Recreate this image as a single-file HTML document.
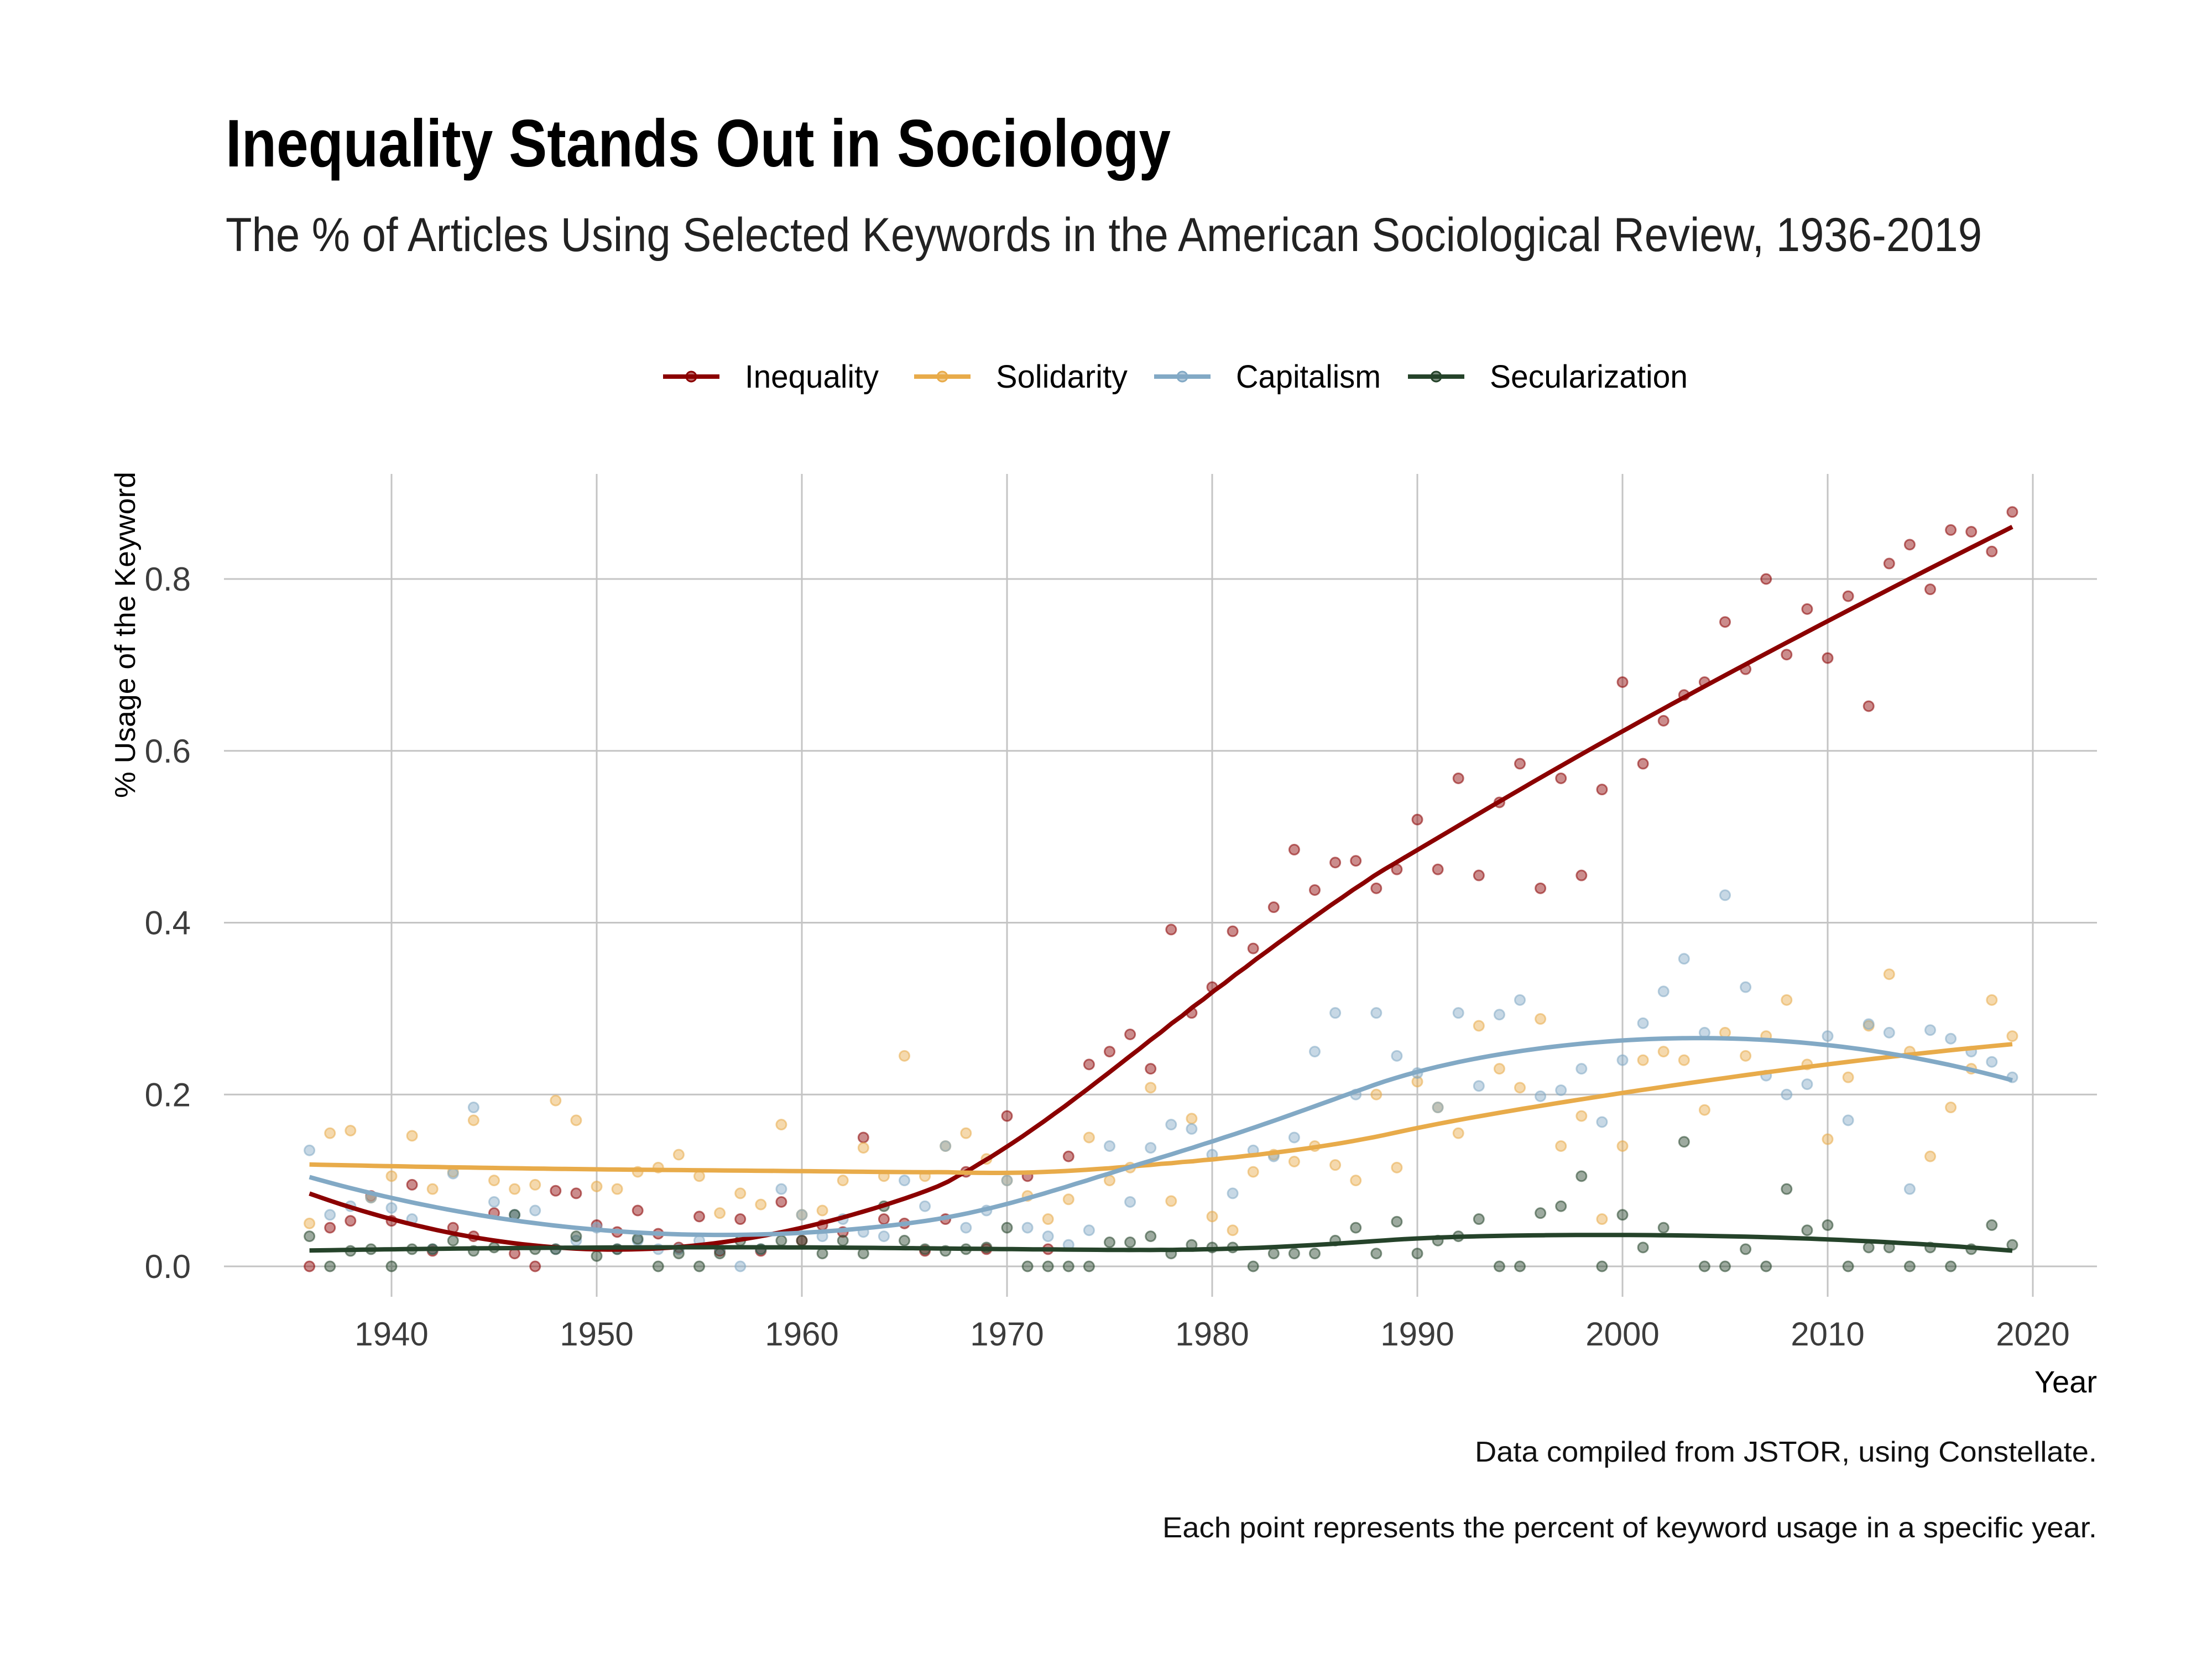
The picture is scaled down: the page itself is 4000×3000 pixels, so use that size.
<!DOCTYPE html>
<html><head><meta charset="utf-8"><style>
html,body{margin:0;padding:0;background:#fff;}
svg{display:block;font-family:"Liberation Sans Narrow","Liberation Sans",sans-serif;}
</style></head><body>
<svg id="chart" width="4000" height="3000" viewBox="0 0 4000 3000" xmlns="http://www.w3.org/2000/svg">
<rect width="4000" height="3000" fill="#fff"/>
<text x="408" y="301" font-size="122" font-weight="bold" fill="#000" textLength="1709" lengthAdjust="spacingAndGlyphs">Inequality Stands Out in Sociology</text>
<text x="408" y="454" font-size="86" fill="#222" textLength="3176" lengthAdjust="spacingAndGlyphs">The % of Articles Using Selected Keywords in the American Sociological Review, 1936-2019</text>
<g id="legend"></g>
<g id="grid"></g>
<g id="points"></g>
<g id="lines"></g>
<g id="axes"></g>
<text transform="translate(244,1148) rotate(-90)" text-anchor="middle" font-size="52" fill="#000" textLength="590" lengthAdjust="spacingAndGlyphs">% Usage of the Keyword</text>
<text x="3792" y="2518" text-anchor="end" font-size="56" fill="#000">Year</text>
<text x="3792" y="2643" text-anchor="end" font-size="52" fill="#111" textLength="1125" lengthAdjust="spacingAndGlyphs">Data compiled from JSTOR, using Constellate.</text>
<text x="3792" y="2780" text-anchor="end" font-size="52" fill="#111" textLength="1690" lengthAdjust="spacingAndGlyphs">Each point represents the percent of keyword usage in a specific year.</text>
</svg>
<script>
const years = [];
for (let y = 1936; y <= 2019; y++) years.push(y);
const xTicks = [1940,1950,1960,1970,1980,1990,2000,2010,2020];
const yTicks = [0,0.2,0.4,0.6,0.8];
const yTickLabels = ["0.0","0.2","0.4","0.6","0.8"];
const seriesNames = ["Inequality","Solidarity","Capitalism","Secularization"];
const inequality = [0,.045,.053,.082,.053,.095,.018,.045,.035,.062,.015,0,.088,.085,.048,.04,.065,.038,.022,.058,.018,.055,.018,.075,.03,.048,.04,.15,.055,.05,.018,.055,.11,.02,.175,.105,.02,.128,.235,.25,.27,.23,.392,.295,.325,.39,.37,.418,.485,.438,.47,.472,.44,.462,.52,.462,.568,.455,.54,.585,.44,.568,.455,.555,.68,.585,.635,.665,.68,.75,.695,.8,.712,.765,.708,.78,.652,.818,.84,.788,.857,.855,.832,.878];
const solidarity = [.05,.155,.158,.08,.105,.152,.09,.11,.17,.1,.09,.095,.193,.17,.093,.09,.11,.115,.13,.105,.062,.085,.072,.165,.06,.065,.1,.138,.105,.245,.105,.14,.155,.125,.1,.082,.055,.078,.15,.1,.115,.208,.076,.172,.058,.042,.11,.13,.122,.14,.118,.1,.2,.115,.215,.185,.155,.28,.23,.208,.288,.14,.175,.055,.14,.24,.25,.24,.182,.272,.245,.268,.31,.235,.148,.22,.28,.34,.25,.128,.185,.23,.31,.268];
const capitalism = [.135,.06,.07,.08,.068,.055,.02,.108,.185,.075,.06,.065,.02,.03,.045,.02,.03,.02,.02,.03,.02,0,.02,.09,.06,.035,.055,.04,.035,.1,.07,.14,.045,.065,.1,.045,.035,.025,.042,.14,.075,.138,.165,.16,.13,.085,.135,.128,.15,.25,.295,.2,.295,.245,.225,.185,.295,.21,.293,.31,.198,.205,.23,.168,.24,.283,.32,.358,.272,.432,.325,.222,.2,.212,.268,.17,.282,.272,.09,.275,.265,.25,.238,.22];
const secularization = [.035,0,.018,.02,0,.02,.02,.03,.018,.022,.06,.02,.02,.035,.012,.02,.032,0,.015,0,.015,.03,.02,.03,.03,.015,.03,.015,.07,.03,.02,.018,.02,.022,.045,0,0,0,0,.028,.028,.035,.015,.025,.022,.022,0,.015,.015,.015,.03,.045,.015,.052,.015,.03,.035,.055,0,0,.062,.07,.105,0,.06,.022,.045,.145,0,0,.02,0,.09,.042,.048,0,.022,.022,0,.022,0,.02,.048,.025];
const seriesData = [inequality, solidarity, capitalism, secularization];
const colors = ["#8b0000","#e8ab4a","#82a9c5","#25432a"];

const NS = "http://www.w3.org/2000/svg";
const X0 = 405, X1 = 3792, Y0 = 857, Y1 = 2345;
function xScale(yr){ return 708 + (yr - 1940) * 37.1; }
function yScale(v){ return 2290 - v / 0.8 * (2290 - 1047); }
function mk(tag, attrs, parent){ const e = document.createElementNS(NS, tag); for (const k in attrs) e.setAttribute(k, attrs[k]); parent.appendChild(e); return e; }

const grid = document.getElementById('grid');
const axes = document.getElementById('axes');
yTicks.forEach((t, i) => {
  const l = mk('line', {x1:X0, x2:X1, y1:yScale(t), y2:yScale(t), stroke:'#c4c4c4', 'stroke-width':3}, grid);
  
  
  const tx = mk('text', {x:345, y:yScale(t)+21, 'text-anchor':'end', 'font-size':60, fill:'#3c3c3c'}, axes);
  tx.textContent = yTickLabels[i];
  
  
});
xTicks.forEach(t => {
  const l = mk('line', {x1:xScale(t), x2:xScale(t), y1:Y0, y2:Y1, stroke:'#c4c4c4', 'stroke-width':3}, grid);
  
  
  const tx = mk('text', {x:xScale(t), y:2433, 'text-anchor':'middle', 'font-size':60, fill:'#3c3c3c'}, axes);
  tx.textContent = String(t);
  
  
});

const pts = document.getElementById('points');
seriesData.forEach((arr, s) => {
  arr.forEach((v, i) => {
    const c = mk('circle', {cx:xScale(years[i]), cy:yScale(v), r:9, fill:colors[s], 'fill-opacity':0.45, stroke:colors[s], 'stroke-opacity':0.55, 'stroke-width':3}, pts);
    
    
  });
});

function loess(xs, ys, x0, span){
  const n = xs.length, q = Math.floor(span * n);
  const d = xs.map(x => Math.abs(x - x0)).sort((a,b)=>a-b);
  const h = d[q-1] * (span > 1 ? span : 1);
  let S = [[0,0,0],[0,0,0],[0,0,0]], B = [0,0,0];
  for (let i = 0; i < n; i++){
    const u = Math.abs(xs[i]-x0)/h; if (u >= 1) continue;
    const w = Math.pow(1 - u*u*u, 3);
    const dx = xs[i]-x0, p = [1, dx, dx*dx];
    for (let a=0;a<3;a++){ B[a]+=w*p[a]*ys[i]; for(let b=0;b<3;b++) S[a][b]+=w*p[a]*p[b]; }
  }
  // solve 3x3
  const M = S.map((r,i)=>r.concat([B[i]]));
  for (let c=0;c<3;c++){ let p=c; for(let r=c+1;r<3;r++) if(Math.abs(M[r][c])>Math.abs(M[p][c])) p=r; [M[c],M[p]]=[M[p],M[c]];
    for (let r=0;r<3;r++){ if(r===c) continue; const f=M[r][c]/M[c][c]; for(let k=c;k<4;k++) M[r][k]-=f*M[c][k]; } }
  return M[0][3]/M[0][0];
}
const lines = document.getElementById('lines');
seriesData.forEach((arr, s) => {
  let d = '';
  for (let k = 0; k <= 160; k++){
    const xv = 1936 + (2019-1936)*k/160;
    const yv = loess(years, arr, xv, 0.75);
    d += (k ? 'L' : 'M') + xScale(xv).toFixed(1) + ',' + yScale(yv).toFixed(1);
  }
  const p = mk('path', {d:d, fill:'none', stroke:colors[s], 'stroke-width':8}, lines);
  
  
});

const legend = document.getElementById('legend');
const legX = [1199, 1653, 2087, 2546];
const legW = [242, 238, 262, 358];
seriesNames.forEach((nm, s) => {
  const g = mk('g', {}, legend);
  
  
  mk('line', {x1:legX[s], x2:legX[s]+102, y1:681, y2:681, stroke:colors[s], 'stroke-width':8}, g);
  mk('circle', {cx:legX[s]+51, cy:681, r:9, fill:colors[s], 'fill-opacity':0.6, stroke:colors[s], 'stroke-width':3}, g);
  const t = mk('text', {x:legX[s]+148, y:701, 'font-size':58, fill:'#000', textLength:legW[s], lengthAdjust:'spacingAndGlyphs'}, g);
  t.textContent = nm;
});
</script>
</body></html>
